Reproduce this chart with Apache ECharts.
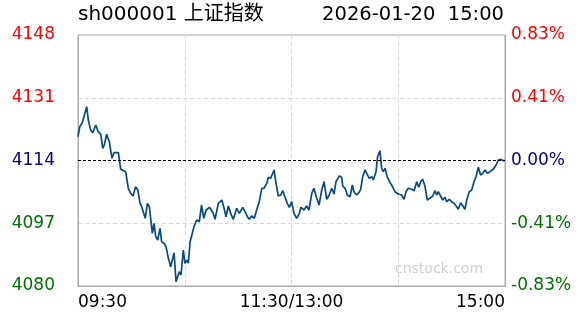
<!DOCTYPE html>
<html>
<head>
<meta charset="utf-8">
<script src="https://cdn.jsdelivr.net/npm/echarts@6/dist/echarts.min.js"></script>
<style>
html,body{margin:0;padding:0;background:#fff;}
#c{width:588px;height:324px;}
</style>
</head>
<body>
<div id="c"></div>
<script>
// ---- data ----
var titleText = 'sh000001 上证指数';
var dateText = '2026-01-20  15:00';
var prevClose = 4114;
var yTicks = [4080, 4097, 4114, 4131, 4148];
var timeLabels = {0: '09:30', 120: '11:30/13:00', 240: '15:00'};
// minutes since 09:30 (lunch break removed)
var minutes = [0,1,2.4,3.5,4.9,5.8,7.1,8.3,10,11.4,12.8,13.9,14.8,16.1,17.6,19.1,20.2,22.7,24,25.1,26.8,28.3,29.6,30.9,32.4,33.6,34.9,35.8,36.7,37.8,39,40.1,41.8,42.7,43.7,44.8,46.1,47,48.3,49.5,50.8,52.1,53,54,55.1,55.8,56.9,57.9,59.2,60.1,61.4,62,63,63.9,65.2,66.7,68.2,69.4,70.7,72,73.9,76,77,78.9,80.8,82.1,83.2,84.5,85.8,87.3,89.2,90.7,92.6,93.9,95.2,96.3,97.6,99.1,100.4,101.9,103.3,104.5,106.1,107,108.3,110.2,111.3,112.6,113.9,115.1,116.3,117.6,118.8,120.1,121.4,122.9,124.4,125.3,127,128.5,129.8,131.4,132.6,134.2,135.5,137,138.3,139.8,141.2,142.6,143.9,145,146.9,148.2,148.8,150.1,151.4,152.9,154.2,155.1,156.6,157.9,158.9,160,161.3,162.3,163.7,165.1,166,167.5,168.4,169.7,170.7,171.6,172.6,173.8,175.4,176.3,177.2,178.2,180,181.9,183.2,184.4,185.6,187.6,188.9,190.4,191.5,192.6,193.7,195,196.3,197.8,199.4,200.7,201.6,202.5,203.5,205,206.3,207.2,208.7,210,211.3,212.9,213.7,215.1,216.2,217.5,218.5,219.9,221.3,222.6,223.7,225,226.3,227.5,228.8,230.1,231.6,233.4,235,236.2,237.6,239,240];
var prices = [4120.45,4123.16,4124.24,4124.08,4128.58,4124.97,4122.26,4121.53,4123.62,4121.8,4121.1,4117.31,4118.2,4121.1,4119.09,4114.6,4116.11,4116.11,4111.62,4111.24,4110.97,4106.47,4105.11,4104.38,4106.9,4106.01,4102.4,4101.48,4101.94,4098.34,4102.4,4101.48,4094.28,4096.99,4093.36,4092.46,4095.63,4092,4091.57,4090.65,4087.5,4085.23,4085.69,4089.02,4081.17,4080.73,4083.87,4082.98,4089.75,4086.15,4087.04,4086.15,4092,4092,4096.07,4097.88,4097.42,4101.94,4098.34,4100.59,4101.32,4099.7,4098.07,4102.4,4103.3,4101.05,4098.77,4101.67,4099.7,4098.07,4101.05,4099.7,4101.32,4100.13,4098.77,4098.07,4098.96,4098.34,4100.59,4102.84,4106.47,4106.47,4107.82,4109.45,4109.18,4111.43,4107.82,4104.38,4104.65,4105.82,4104.19,4102.4,4101.32,4102.84,4099.7,4098.34,4099.7,4101.32,4100.59,4101.67,4100.59,4105.11,4106.47,4103.76,4101.94,4106.01,4108.26,4103.49,4104.65,4106.47,4104.92,4108.26,4109.8,4109.45,4107.09,4106.47,4104.65,4104.19,4107.36,4105.55,4104.65,4105.28,4106.2,4109.61,4111.43,4110.97,4109.18,4109.61,4108.72,4110.97,4115.03,4116.66,4111.89,4110.97,4111.89,4109.61,4107.99,4107.36,4107.36,4105.55,4104.92,4104.65,4103.49,4105.55,4106.47,4106.2,4105.82,4108.26,4106.74,4108.26,4108.91,4107.09,4103.3,4103.76,4104.38,4105.82,4104.65,4105.55,4104.65,4103.3,4104.03,4102.84,4103.49,4102.84,4102.4,4101.48,4100.78,4102.57,4103.11,4100.78,4103.3,4105.55,4106.01,4108.26,4109.61,4112.16,4110.07,4110.53,4111.43,4110.53,4110.97,4111.62,4112.78,4114.14,4114.33,4113.95,4114.0];

// ---- chart ----
var upColor = '#ff0000', flatColor = '#000080', downColor = '#007000';
function tickColor(v){ return v > prevClose ? upColor : (v < prevClose ? downColor : flatColor); }
function pct(v){ return ((v - prevClose) / prevClose * 100).toFixed(2) + '%'; }

var seriesData = minutes.map(function(m, i){ return [m, prices[i]]; });
var font = 'DejaVu Sans, Noto Sans CJK SC, sans-serif';

var chart = echarts.init(document.getElementById('c'));
chart.setOption({
  animation: false,
  backgroundColor: '#fff',
  grid: {left: 78, right: 83, top: 35, bottom: 38, show: true, borderColor: '#aaaaaa', borderWidth: 1},
  graphic: [
    {type: 'text', left: 78, top: 5, style: {text: titleText, font: '20px ' + font, fill: '#000'}},
    {type: 'text', right: 84, top: 5, style: {text: dateText, font: '19.5px ' + font, fill: '#000'}},
    {type: 'text', left: 395, top: 262, style: {text: 'cnstock.com', font: '14px ' + font, fill: '#d0d0d0'}}
  ],
  xAxis: {
    type: 'value', min: 0, max: 240, interval: 60,
    axisLine: {show: true, lineStyle: {color: '#aaaaaa'}},
    axisTick: {show: false},
    splitLine: {show: true, lineStyle: {color: '#d9d9d9', type: [4, 3]}},
    axisLabel: {
      margin: 8, fontSize: 17, fontFamily: font, color: '#000',
      alignMinLabel: 'left', alignMaxLabel: 'right',
      formatter: function(v){ return timeLabels[v] || ''; }
    }
  },
  yAxis: [{
    type: 'value', min: yTicks[0], max: yTicks[yTicks.length - 1], interval: yTicks[1] - yTicks[0],
    axisLine: {show: true, lineStyle: {color: '#aaaaaa'}},
    axisTick: {show: false},
    splitLine: {show: true, lineStyle: {color: ['rgba(0,0,0,0)', '#d9d9d9', 'rgba(0,0,0,0)', '#d9d9d9', 'rgba(0,0,0,0)'], type: [4, 3]}},
    axisLabel: {
      margin: 23, fontSize: 17, fontFamily: font,
      color: function(v){ return tickColor(+v); },
      formatter: function(v){ return String(v); }
    }
  }, {
    type: 'value', min: yTicks[0], max: yTicks[yTicks.length - 1], interval: yTicks[1] - yTicks[0],
    position: 'right',
    axisLine: {show: true, lineStyle: {color: '#aaaaaa'}},
    axisTick: {show: false},
    splitLine: {show: false},
    axisLabel: {
      margin: 6, fontSize: 17, fontFamily: font,
      color: function(v){ return tickColor(+v); },
      formatter: function(v){ return pct(v); }
    }
  }],
  series: [{
    type: 'line',
    data: seriesData,
    showSymbol: false,
    symbol: 'none',
    lineStyle: {color: '#0b4a7e', width: 1.7},
    markLine: {
      silent: true, symbol: 'none', label: {show: false},
      lineStyle: {color: '#000', type: [3, 2], width: 1},
      data: [{yAxis: prevClose}]
    }
  }]
});
</script>
</body>
</html>
